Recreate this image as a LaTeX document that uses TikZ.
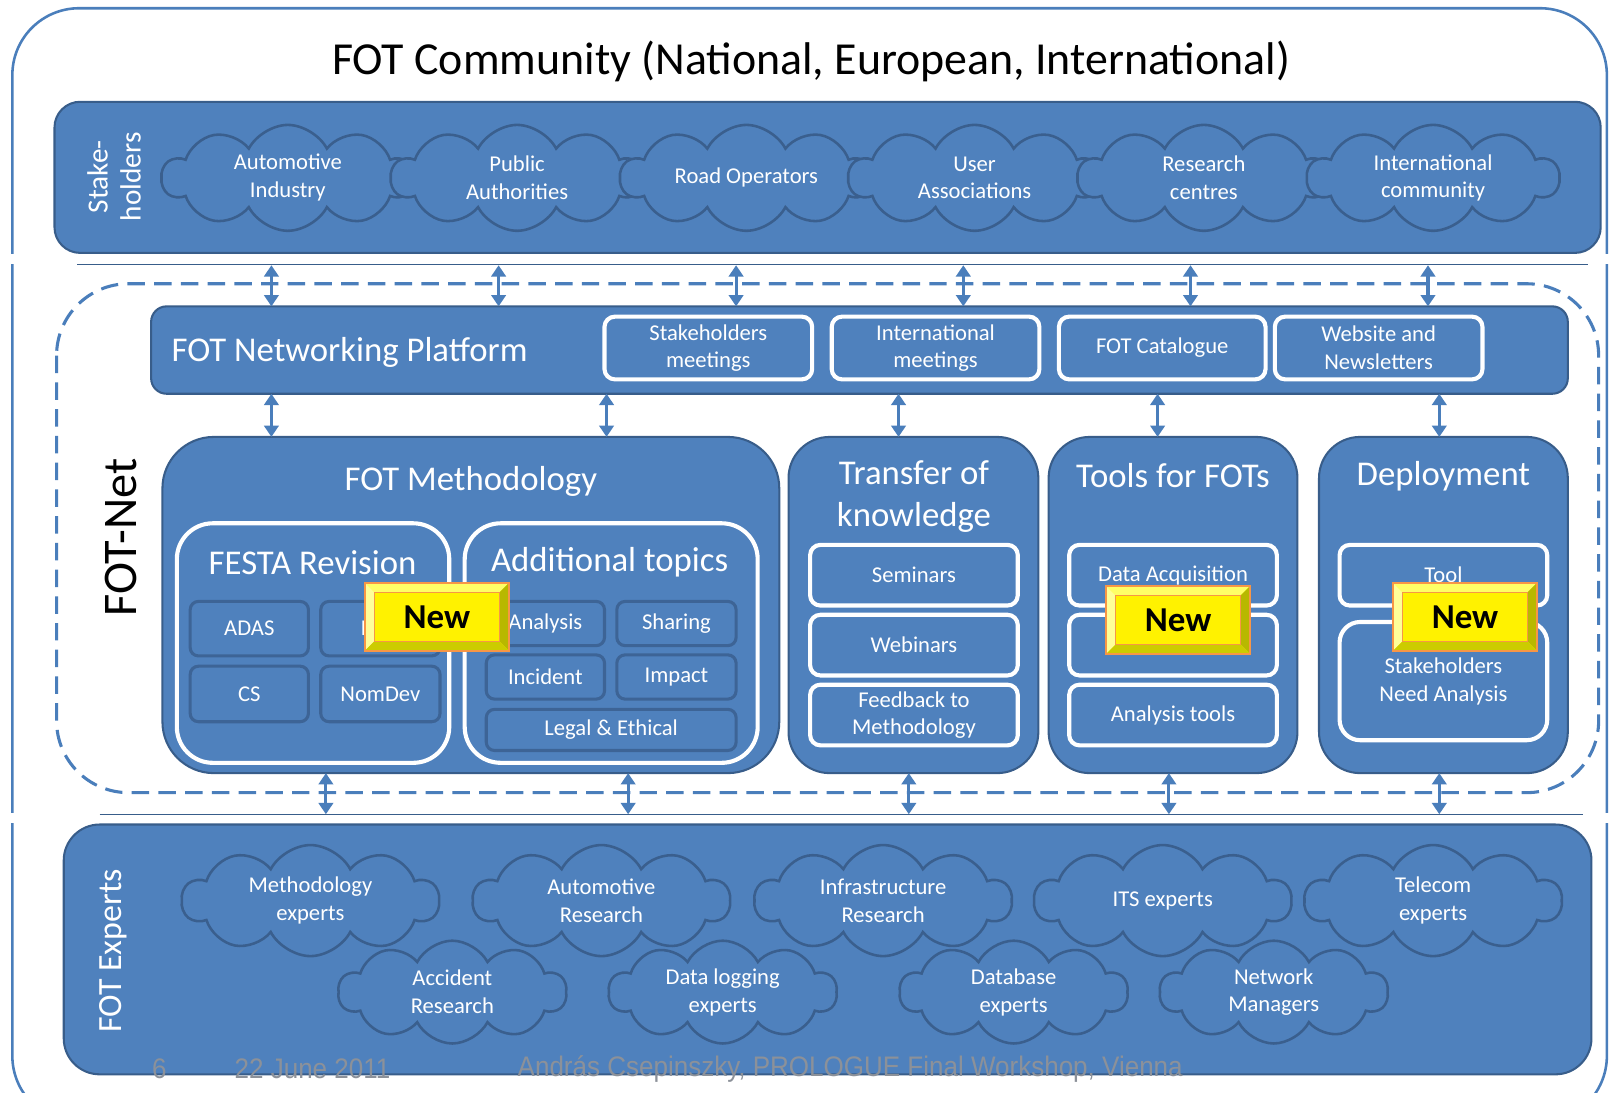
\documentclass[tikz,border=0pt]{standalone}
\usepackage{fontspec}
\setmainfont{Carlito}
\newfontfamily\footfont{Liberation Sans}
\usetikzlibrary{shapes.symbols,arrows.meta,calc}
\definecolor{fillblue}{HTML}{4F81BD}
\definecolor{edgeblue}{HTML}{385D8A}
\definecolor{lineblue}{HTML}{4A7EBB}
\definecolor{cloudedge}{HTML}{3A5F8E}
\definecolor{smalledge}{HTML}{3D6496}
\definecolor{badgeorange}{HTML}{F79646}
\definecolor{footgray}{HTML}{8C9199}
\definecolor{bevtop}{HTML}{FFFF66}
\definecolor{bevleft}{HTML}{FFFF99}
\definecolor{bevright}{HTML}{B8B800}
\definecolor{bevbot}{HTML}{CCCC00}
\newcommand{\myfs}[2]{\fontsize{#1}{#2}\selectfont}
\newcommand{\footxt}[1]{\scalebox{0.92}[1]{#1}}
\tikzset{
 every node/.style={inner sep=0pt, outer sep=0pt},
 band/.style={rectangle, draw=edgeblue, line width=2pt, fill=fillblue, rounded corners=#1},
 whitebox/.style={rectangle, draw=white, line width=4pt, fill=fillblue, rounded corners=10pt, text=white, align=center, font=\myfs{22}{27}},
 smallbox/.style={rectangle, draw=smalledge, line width=3pt, fill=fillblue, rounded corners=8pt, text=white, align=center, font=\myfs{22}{27}},
 cloudnode/.style={cloud, cloud puffs=10, cloud puff arc=125, cloud ignores aspect, draw=cloudedge, line width=2.5pt, fill=fillblue, text=white, align=center, font=\myfs{22}{27}},
 dbl/.style={{Triangle[width=14pt,length=11pt]}-{Triangle[width=14pt,length=11pt]}, line width=3pt, draw=lineblue},
 sepline/.style={draw=edgeblue, line width=1.3pt},
 hdr/.style={text=white, align=center, font=\myfs{33.8}{40}},
 foot/.style={text=footgray, font=\footfont\myfs{27.5}{30}},
 badgeout/.style={rectangle, fill=yellow, minimum width=140pt, minimum height=66pt},
 badgein/.style={rectangle, fill=yellow, draw=badgeorange, line width=1pt, minimum width=122pt, minimum height=48pt, font=\bfseries\myfs{34}{34}},
}
\newcommand{\newbadge}[3]{%
  \node[badgeout] (#1) at (#2,#3) {};
  \fill[bevtop] (#1.north west) -- (#1.north east) -- ($(#1.north east)+(-9,9)$) -- ($(#1.north west)+(9,9)$) -- cycle;
  \fill[bevleft] (#1.north west) -- ($(#1.north west)+(9,9)$) -- ($(#1.south west)+(9,-9)$) -- (#1.south west) -- cycle;
  \fill[bevright] (#1.north east) -- ($(#1.north east)+(-9,9)$) -- ($(#1.south east)+(-9,-9)$) -- (#1.south east) -- cycle;
  \fill[bevbot] (#1.south west) -- ($(#1.south west)+(9,-9)$) -- ($(#1.south east)+(-9,-9)$) -- (#1.south east) -- cycle;
  \node[badgein] (#1-t) at (#2,#3) {New};
  \draw[badgeorange, line width=2pt] (#1.north west) rectangle (#1.south east);
}
\begin{document}
\begin{tikzpicture}[x=1pt,y=-1pt]
\fill[white] (0,0) rectangle (1568,1063);
\useasboundingbox (0,0) rectangle (1568,1063);
% outer frame
\draw[lineblue, line width=2.5pt, rounded corners=65pt] (12,8) rectangle (1563,1092);
\fill[white] (0,247) rectangle (45,257);
\fill[white] (1540,247) rectangle (1568,257);
\fill[white] (0,791) rectangle (55,801);
\fill[white] (1540,791) rectangle (1568,801);
\draw[sepline] (75,257) -- (1545,257);
\draw[sepline] (97,792) -- (1540,792);
% title
\node[font=\myfs{44.6}{50}] (title) at (789,60) {FOT Community (National, European, International)};
% stakeholders
\node[band=25pt, minimum width=1504pt, minimum height=147pt] (stk) at (805,172.5) {};
\node[rotate=90, text=white, align=center, font=\myfs{28.5}{32}] (stklbl) at (111,172) {Stake-\\holders};
\node[cloudnode, minimum width=245pt, minimum height=103pt] (s1) at (280,173) {Automotive\\Industry};
\node[cloudnode, minimum width=245pt, minimum height=103pt] (s2) at (503,173) {Public\\Authorities};
\node[cloudnode, minimum width=245pt, minimum height=103pt] (s3) at (726,173) {Road Operators};
\node[cloudnode, minimum width=245pt, minimum height=103pt] (s4) at (948,173) {User\\Associations};
\node[cloudnode, minimum width=245pt, minimum height=103pt] (s5) at (1171,173) {Research\\centres};
\node[cloudnode, minimum width=245pt, minimum height=103pt] (s6) at (1394,173) {International\\community};
% FOT-Net dashed
\draw[lineblue, line width=3pt, dash pattern=on 17pt off 9pt, rounded corners=70pt] (55,276) rectangle (1555,771);
\node[rotate=90, font=\myfs{47}{50}] (fotnet) at (118,523) {FOT-Net};
% networking platform
\node[band=15pt, minimum width=1378pt, minimum height=85pt] (net) at (836,340.5) {};
\node[anchor=base west, text=white, font=\myfs{33.8}{36}] (netlbl) at (167,352) {FOT Networking Platform};
\node[whitebox, minimum width=202pt, minimum height=61pt] (n1) at (689,338.5) {Stakeholders\\meetings};
\node[whitebox, minimum width=202pt, minimum height=61pt] (n2) at (910,338.5) {International\\meetings};
\node[whitebox, minimum width=201pt, minimum height=61pt] (n3) at (1130.5,338.5) {FOT Catalogue};
\node[whitebox, minimum width=202pt, minimum height=61pt] (n4) at (1341,338.5) {Website and\\Newsletters};
% top arrows
\foreach \i/\x in {1/264,2/485,3/716,4/937,5/1158,6/1389}{
  \coordinate (ta\i) at (\x,258);
  \draw[dbl] (ta\i) -- (ta\i |- net.north);
}
% main boxes
\node[band=50pt, minimum width=600pt, minimum height=327pt] (meth) at (458,588.5) {};
\node[band=40pt, minimum width=243pt, minimum height=327pt] (trans) at (888.5,588.5) {};
\node[band=40pt, minimum width=242pt, minimum height=327pt] (tools) at (1141,588.5) {};
\node[band=40pt, minimum width=242pt, minimum height=327pt] (depl) at (1404,588.5) {};
\node[hdr] (methT) at (458,468) {FOT Methodology};
\node[hdr] (transT) at (889,483) {Transfer of\\knowledge};
\node[hdr] (toolsT) at (1141,463) {Tools for FOTs};
\node[hdr] (deplT) at (1404,463) {Deployment};
% middle arrows
\coordinate (m1) at (264,425);
\coordinate (m2) at (590,425);
\coordinate (m3) at (874,425);
\coordinate (m4) at (1126,425);
\coordinate (m5) at (1400,425);
\draw[dbl] (m1 |- net.south) -- (m1 |- meth.north);
\draw[dbl] (m2 |- net.south) -- (m2 |- meth.north);
\draw[dbl] (m3 |- net.south) -- (m3 |- trans.north);
\draw[dbl] (m4 |- net.south) -- (m4 |- tools.north);
\draw[dbl] (m5 |- net.south) -- (m5 |- depl.north);
% FESTA
\node[whitebox, rounded corners=35pt, minimum width=265pt, minimum height=233pt] (festa) at (304.5,625.5) {};
\node[hdr] (festaT) at (304,547) {FESTA Revision};
\node[smallbox, minimum width=115pt, minimum height=53pt] (adas) at (242.5,611.5) {ADAS};
\node[smallbox, minimum width=116pt, minimum height=53pt] (nds) at (370,611.5) {NDS};
\node[smallbox, minimum width=115pt, minimum height=54pt] (cs) at (242.5,675) {CS};
\node[smallbox, minimum width=116pt, minimum height=54pt] (nomdev) at (370,675) {NomDev};
% Additional topics
\node[whitebox, rounded corners=35pt, minimum width=285pt, minimum height=233pt] (addt) at (594.5,625.5) {};
\node[hdr] (addtT) at (593,547) {Additional topics};
\node[smallbox, minimum width=115pt, minimum height=43pt] (ana) at (530.5,606.5) {Analysis};
\node[smallbox, minimum width=116pt, minimum height=43pt] (shar) at (658,606.5) {Sharing};
\node[smallbox, minimum width=115pt, minimum height=43pt] (inc) at (530.5,658.5) {Incident};
\node[smallbox, minimum width=116pt, minimum height=43pt] (imp) at (658,658.5) {Impact};
\node[smallbox, minimum width=243pt, minimum height=40pt] (legal) at (594.5,710) {Legal \& Ethical};
% Transfer
\node[whitebox, minimum width=202pt, minimum height=59pt] (sem) at (889,559.5) {Seminars};
\node[whitebox, minimum width=202pt, minimum height=59pt] (web) at (889,627.5) {Webinars};
\node[whitebox, minimum width=202pt, minimum height=59pt] (feed) at (889,695.5) {Feedback to\\Methodology};
% Tools
\node[whitebox, minimum width=202pt, minimum height=59pt] (daq) at (1141,559.5) {Data Acquisition};
\node[whitebox, minimum width=202pt, minimum height=59pt] (hid) at (1141,627.5) {};
\node[whitebox, minimum width=202pt, minimum height=59pt] (atools) at (1141,695.5) {Analysis tools};
% Deployment
\node[whitebox, minimum width=202pt, minimum height=59pt] (tool) at (1404,559.5) {Tool};
\node[whitebox, rounded corners=20pt, minimum width=202pt, minimum height=115pt] (sna) at (1404,662.5) {Stakeholders\\Need Analysis};
% badges
\newbadge{b1}{425}{600}
\newbadge{b2}{1146}{603}
\newbadge{b3}{1425}{600}
% bottom arrows
\coordinate (e1) at (317,792);
\coordinate (e2) at (611,792);
\coordinate (e3) at (884,792);
\coordinate (e4) at (1137,792);
\coordinate (e5) at (1400,792);
\draw[dbl] (e1 |- meth.south) -- (e1);
\draw[dbl] (e2 |- meth.south) -- (e2);
\draw[dbl] (e3 |- trans.south) -- (e3);
\draw[dbl] (e4 |- tools.south) -- (e4);
\draw[dbl] (e5 |- depl.south) -- (e5);
% Experts
\node[band=35pt, minimum width=1486pt, minimum height=243pt] (exp) at (805,923.5) {};
\node[rotate=90, text=white, font=\myfs{33}{36}] (explbl) at (110,925) {FOT Experts};
\node[cloudnode, minimum width=250pt, minimum height=108pt] (x1) at (302,876) {Methodology\\experts};
\node[cloudnode, minimum width=250pt, minimum height=108pt] (x2) at (585,876) {Automotive\\Research};
\node[cloudnode, minimum width=250pt, minimum height=108pt] (x3) at (859,876) {Infrastructure\\Research};
\node[cloudnode, minimum width=250pt, minimum height=108pt] (x4) at (1131,876) {ITS experts};
\node[cloudnode, minimum width=250pt, minimum height=108pt] (x5) at (1394,876) {Telecom\\experts};
\node[cloudnode, minimum width=222pt, minimum height=100pt] (x6) at (440,965) {Accident\\Research};
\node[cloudnode, minimum width=222pt, minimum height=100pt] (x7) at (703,965) {Data logging\\experts};
\node[cloudnode, minimum width=222pt, minimum height=100pt] (x8) at (986,965) {Database\\experts};
\node[cloudnode, minimum width=222pt, minimum height=100pt] (x9) at (1239,965) {Network\\Managers};
% footer
\node[foot] (pg) at (155,1040) {\footxt{6}};
\node[foot] (date) at (304,1040) {\footxt{22 June 2011}};
\node[foot] (auth) at (827,1040) {\footxt{András Csepinszky, PROLOGUE Final Workshop, Vienna}};
\end{tikzpicture}
\end{document}
